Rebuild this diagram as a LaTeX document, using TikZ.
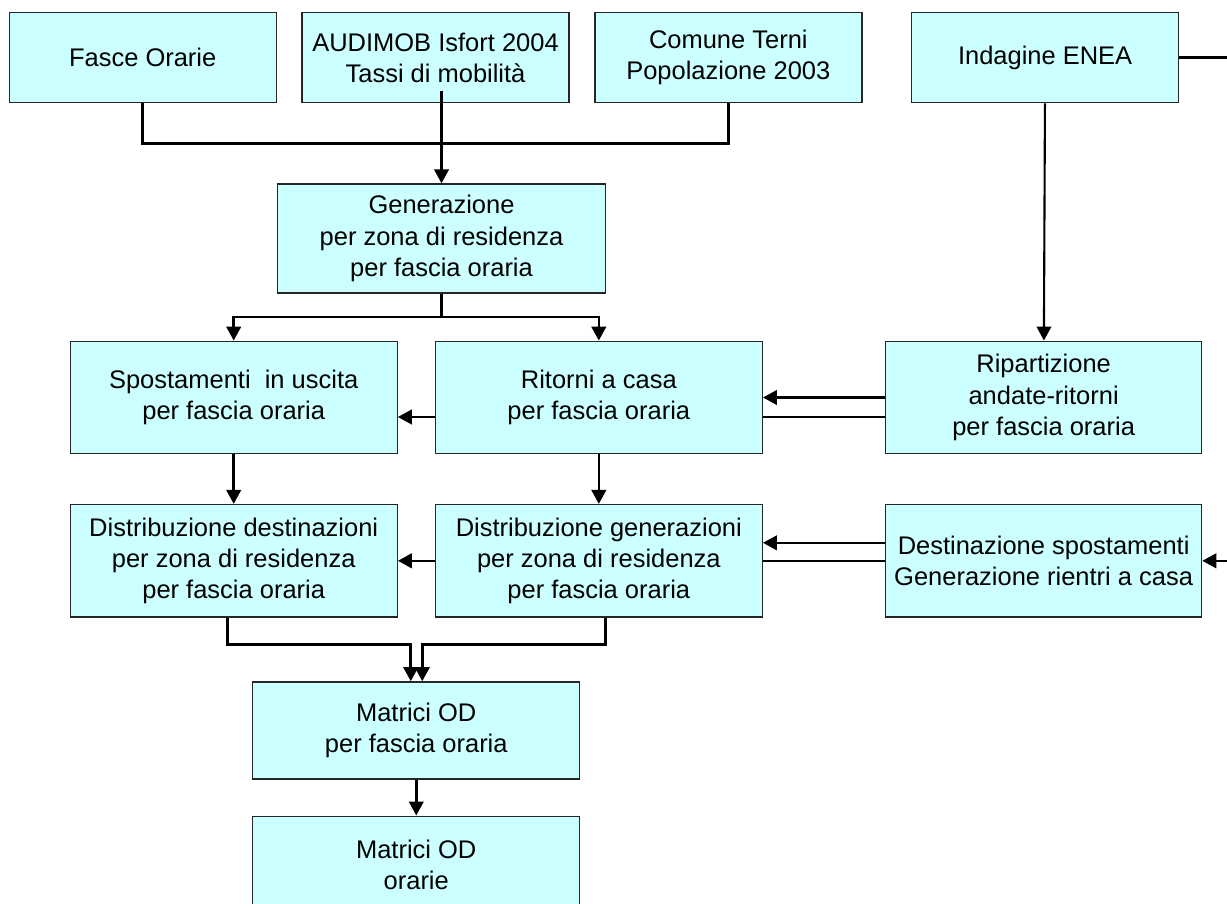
\documentclass[tikz,border=0pt]{standalone}
\usepackage{fontspec}
\setmainfont{Liberation Sans}
\usetikzlibrary{arrows.meta, positioning, calc}
\definecolor{boxcyan}{HTML}{CCFFFF}

\begin{document}
\begin{tikzpicture}[
        block/.style={rectangle, draw=black!85, line width=0.75pt, fill=boxcyan,
                      align=center, font=\fontsize{14.5}{17.8}\selectfont},
        source/.style={block, minimum width=5.34cm, minimum height=1.8cm},
        stage/.style={block, minimum width=6.54cm, minimum height=2.25cm},
        side/.style={block, minimum width=6.32cm, minimum height=2.25cm},
        result/.style={block, minimum width=6.54cm, minimum height=1.94cm},
        link/.style={line width=1.5pt},
        arrow/.style={-{Triangle[length=2.8mm, width=2.9mm]}, line width=1.5pt}
    ]
        \useasboundingbox (0,0) rectangle (24.54,-18.08);
        \clip (0,0) rectangle (24.54,-18.08);

        \node[source] (fasce) at (2.854,-1.154) {Fasce Orarie};
        \node[source, right=0.49cm of fasce] (audimob) {AUDIMOB Isfort 2004\\Tassi di mobilità};
        \node[source, right=0.49cm of audimob] (comune) {Comune Terni\\Popolazione 2003};
        \node[source, right=0.97cm of comune] (enea) {Indagine ENEA};
        \node[block, minimum width=6.56cm, minimum height=2.18cm, below=1.6cm of audimob, xshift=0.12cm] (gen) {Generazione\\per zona di residenza\\per fascia oraria};
        \node[stage] (spost) at (4.674,-7.95) {Spostamenti~ in uscita\\per fascia oraria};
        \node[stage, right=0.736cm of spost] (ritorni) {Ritorni a casa\\per fascia oraria};
        \node[side, right=2.44cm of ritorni] (ripart) {Ripartizione\\andate-ritorni\\per fascia oraria};
        \node[stage, below=0.99cm of spost] (distdest) {Distribuzione destinazioni\\per zona di residenza\\per fascia oraria};
        \node[stage, below=0.99cm of ritorni] (distgen) {Distribuzione generazioni\\per zona di residenza\\per fascia oraria};
        \node[side, below=0.99cm of ripart] (destin) {Destinazione spostamenti\\Generazione rientri a casa};
        \coordinate (mid) at ($(distdest.south)!0.5!(distgen.south)$);
        \node[result, below=1.27cm of mid] (matod) {Matrici OD\\per fascia oraria};
        \node[result, below=0.72cm of matod] (matorarie) {Matrici OD\\orarie};

        \draw[link] (fasce.south) -- ++(0,-0.8) -| (comune.south);
        \draw[arrow] ($(gen.north |- audimob.south)+(0,0.254)$) -- (gen.north);
        \draw[arrow] (gen.south) -- ++(0,-0.47) -| (spost.north);
        \draw[arrow] (gen.south) -- ++(0,-0.47) -| (ritorni.north);
        \draw[arrow, line width=1.2pt] (enea) -- (ripart);
        \draw[arrow] (ripart.west) -- (ritorni.east);
        \draw[link] ([yshift=-0.39cm]ripart.west) -- ([yshift=-0.39cm]ritorni.east);
        \draw[arrow] ([yshift=-0.39cm]ritorni.west) -- ([yshift=-0.39cm]spost.east);
        \draw[arrow] (spost) -- (distdest);
        \draw[arrow] (ritorni) -- (distgen);
        \draw[arrow] ([yshift=0.36cm]destin.west) -- ([yshift=0.36cm]distgen.east);
        \draw[link] (destin.west) -- (distgen.east);
        \draw[arrow] (distgen.west) -- (distdest.east);
        \draw[arrow] (enea.east) -- ++(1.2,0) |- (destin.east);
        \draw[arrow] ([xshift=-0.12cm]distdest.south) -- ++(0,-0.54) -| ([xshift=-0.11cm]matod.north);
        \draw[arrow] ([xshift=0.13cm]distgen.south) -- ++(0,-0.54) -| ([xshift=0.12cm]matod.north);
        \draw[arrow] (matod) -- (matorarie);
    \end{tikzpicture}
\end{document}
